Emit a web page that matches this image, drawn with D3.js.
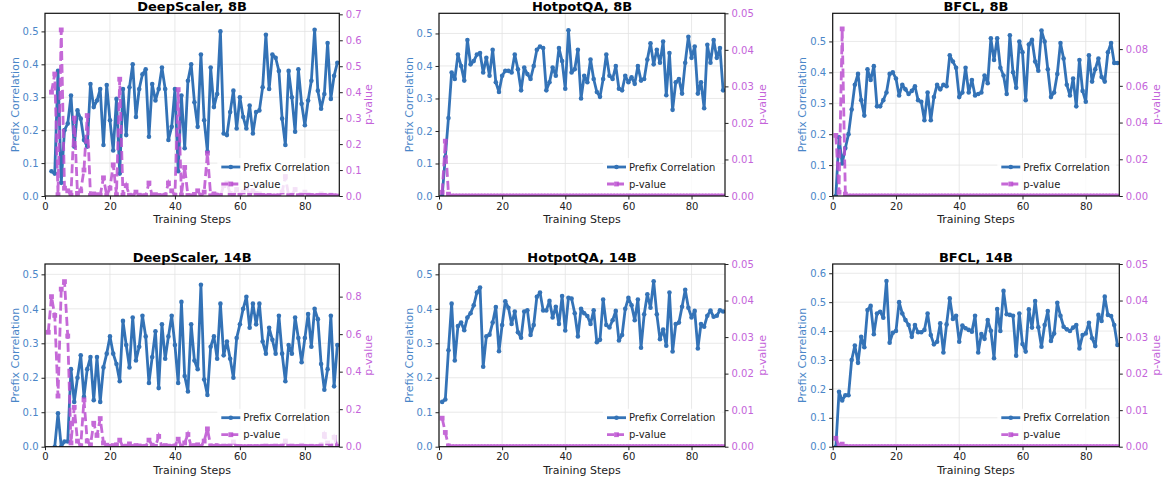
<!DOCTYPE html>
<html>
<head>
<meta charset="utf-8">
<script src="https://cdn.jsdelivr.net/npm/d3@7"></script>
<style>
  body { margin: 0; background: #fff; }
  svg text { font-family: "DejaVu Sans", sans-serif; }
</style>
</head>
<body>
<div id="chart"></div>
<script>
// training steps 1..90
const steps = d3.range(1, 91);
const xTicks = [0, 20, 40, 60, 80];

// prefix correlation per panel (null = no point)
const deepscaler8Corr = [
  null, 0.075, 0.068, 0.38, 0.04, 0.2, 0.22, 0.305, 0.15, 0.26,
  0.235, 0.17, 0.15, 0.34, 0.27, 0.29, 0.325, 0.155, 0.337, 0.23,
  0.138, 0.295, 0.068, 0.325, 0.185, 0.33, 0.4, 0.24, 0.325, 0.37,
  0.385, 0.18, 0.34, 0.29, 0.325, 0.39, 0.325, 0.17, 0.21, 0.325,
  0.075, 0.305, 0.145, 0.35, 0.4, 0.285, 0.21, 0.43, 0.23, 0.135,
  0.39, 0.27, 0.31, 0.5, 0.19, 0.185, 0.255, 0.32, 0.205, 0.3,
  0.24, 0.205, 0.275, 0.19, 0.255, 0.26, 0.33, 0.49, 0.325, 0.43,
  0.42, 0.38, 0.235, 0.155, 0.38, 0.3, 0.195, 0.385, 0.28, 0.215,
  0.29, 0.35, 0.505, 0.32, 0.265, 0.31, 0.465, 0.295, 0.365, 0.405
];
const deepscaler8P = [
  null, 0.40, 0.47, 0.005, 0.64, 0.03, 0.02, 0.003, 0.30, 0.01,
  0.02, 0.10, 0.31, 0.002, 0.008, 0.005, 0.003, 0.07, 0.002, 0.03,
  0.12, 0.005, 0.45, 0.003, 0.04, 0.003, 0.001, 0.015, 0.003, 0.001,
  0.001, 0.05, 0.002, 0.005, 0.002, 0.001, 0.003, 0.05, 0.02, 0.003,
  0.41, 0.004, 0.11, 0.002, 0.001, 0.006, 0.02, 0.001, 0.015, 0.165,
  0.001, 0.008, 0.004, 0.0, 0.04, 0.05, 0.01, 0.003, 0.025, 0.005,
  0.015, 0.03, 0.008, 0.02, 0.01, 0.008, 0.002, 0.0, 0.002, 0.0,
  0.0, 0.001, 0.015, 0.075, 0.001, 0.004, 0.025, 0.001, 0.006, 0.015,
  0.005, 0.002, 0.0, 0.002, 0.008, 0.003, 0.0, 0.004, 0.001, 0.0
];

const hotpot8Corr = [
  0.0, 0.12, 0.24, 0.38, 0.36, 0.435, 0.4, 0.355, 0.48, 0.405,
  0.415, 0.435, 0.44, 0.38, 0.425, 0.37, 0.45, 0.35, 0.32, 0.37,
  0.385, 0.385, 0.38, 0.435, 0.39, 0.325, 0.395, 0.375, 0.36, 0.4,
  0.45, 0.46, 0.455, 0.325, 0.35, 0.395, 0.37, 0.455, 0.415, 0.33,
  0.51, 0.38, 0.39, 0.45, 0.3, 0.37, 0.35, 0.42, 0.36, 0.32,
  0.305, 0.36, 0.435, 0.37, 0.36, 0.4, 0.33, 0.325, 0.37, 0.35,
  0.365, 0.345, 0.4, 0.355, 0.36, 0.42, 0.47, 0.405, 0.45, 0.41,
  0.475, 0.31, 0.44, 0.265, 0.35, 0.36, 0.315, 0.41, 0.49, 0.425,
  0.46, 0.315, 0.35, 0.27, 0.465, 0.41, 0.48, 0.425, 0.455, 0.325
];
const hotpot8P = [
  0.001, 0.015, 0.0005, 0, 0, 0, 0, 0, 0, 0,
  0, 0, 0, 0, 0, 0, 0, 0, 0, 0,
  0, 0, 0, 0, 0, 0, 0, 0, 0, 0,
  0, 0, 0, 0, 0, 0, 0, 0, 0, 0,
  0, 0, 0, 0, 0, 0, 0, 0, 0, 0,
  0, 0, 0, 0, 0, 0, 0, 0, 0, 0,
  0, 0, 0, 0, 0, 0, 0, 0, 0, 0,
  0, 0, 0, 0, 0, 0, 0, 0, 0, 0,
  0, 0, 0, 0, 0, 0, 0, 0, 0, 0
];

const bfcl8Corr = [
  0.0, 0.19, 0.105, 0.155, 0.2, 0.28, 0.36, 0.395, 0.31, 0.26,
  0.41, 0.375, 0.42, 0.29, 0.29, 0.31, 0.335, 0.395, 0.4, 0.38,
  0.325, 0.36, 0.345, 0.33, 0.34, 0.355, 0.31, 0.305, 0.245, 0.335,
  0.245, 0.32, 0.36, 0.345, 0.36, 0.355, 0.455, 0.435, 0.415, 0.32,
  0.335, 0.415, 0.335, 0.375, 0.325, 0.33, 0.335, 0.39, 0.365, 0.51,
  0.44, 0.51, 0.415, 0.39, 0.33, 0.52, 0.4, 0.35, 0.5, 0.465,
  0.31, 0.49, 0.505, 0.435, 0.405, 0.535, 0.5, 0.41, 0.32, 0.335,
  0.395, 0.495, 0.445, 0.36, 0.325, 0.38, 0.29, 0.44, 0.34, 0.305,
  0.455, 0.37, 0.41, 0.445, 0.385, 0.37, 0.465, 0.495, 0.43, 0.43
];
const bfcl8P = [
  0.033, 0.002, 0.091, 0.001, 0, 0, 0, 0, 0, 0,
  0, 0, 0, 0, 0, 0, 0, 0, 0, 0,
  0, 0, 0, 0, 0, 0, 0, 0, 0, 0,
  0, 0, 0, 0, 0, 0, 0, 0, 0, 0,
  0, 0, 0, 0, 0, 0, 0, 0, 0, 0,
  0, 0, 0, 0, 0, 0, 0, 0, 0, 0,
  0, 0, 0, 0, 0, 0, 0, 0, 0, 0,
  0, 0, 0, 0, 0, 0, 0, 0, 0, 0,
  0, 0, 0, 0, 0, 0, 0, 0, 0, 0
];

const deepscaler14Corr = [
  null, null, 0.0, 0.097, 0.0, 0.015, 0.015, 0.225, 0.13, 0.2,
  0.265, 0.145, 0.225, 0.26, 0.135, 0.26, 0.13, 0.23, 0.27, 0.32,
  0.27, 0.24, 0.19, 0.365, 0.295, 0.23, 0.375, 0.25, 0.29, 0.38,
  0.32, 0.185, 0.26, 0.335, 0.17, 0.355, 0.255, 0.32, 0.38, 0.295,
  0.185, 0.42, 0.205, 0.16, 0.355, 0.25, 0.225, 0.47, 0.195, 0.15,
  0.29, 0.32, 0.255, 0.415, 0.265, 0.305, 0.255, 0.2, 0.315, 0.355,
  0.4, 0.435, 0.345, 0.415, 0.355, 0.415, 0.305, 0.27, 0.345, 0.31,
  0.27, 0.38, 0.27, 0.19, 0.295, 0.27, 0.375, 0.315, 0.245, 0.315,
  0.385, 0.29, 0.4, 0.37, 0.24, 0.165, 0.225, 0.38, 0.175, 0.295
];
const deepscaler14P = [
  0.61, 0.80, 0.70, 0.27, 0.84, 0.88, 0.59, 0.02, 0.21, 0.03,
  0.005, 0.25, 0.03, 0.01, 0.125, 0.06, 0.15, 0.02, 0.008, 0.002,
  0.006, 0.01, 0.035, 0.001, 0.003, 0.015, 0.001, 0.006, 0.004, 0.001,
  0.002, 0.035, 0.008, 0.002, 0.055, 0.001, 0.006, 0.003, 0.001, 0.004,
  0.04, 0.001, 0.02, 0.065, 0.001, 0.006, 0.01, 0.0, 0.03, 0.095,
  0.004, 0.002, 0.006, 0.001, 0.005, 0.003, 0.006, 0.025, 0.002, 0.001,
  0.0, 0.0, 0.001, 0.0, 0.001, 0.0, 0.003, 0.005, 0.001, 0.003,
  0.005, 0.001, 0.005, 0.03, 0.003, 0.005, 0.001, 0.002, 0.008, 0.002,
  0.001, 0.003, 0.0, 0.001, 0.01, 0.065, 0.02, 0.001, 0.05, 0.003
];

const hotpot14Corr = [
  0.13, 0.137, 0.28, 0.415, 0.25, 0.35, 0.36, 0.338, 0.375, 0.387,
  0.41, 0.447, 0.462, 0.232, 0.32, 0.325, 0.36, 0.405, 0.277, 0.353,
  0.422, 0.403, 0.356, 0.392, 0.332, 0.316, 0.392, 0.396, 0.324, 0.353,
  0.435, 0.447, 0.395, 0.395, 0.423, 0.375, 0.406, 0.356, 0.437, 0.337,
  0.432, 0.43, 0.387, 0.32, 0.4, 0.387, 0.379, 0.356, 0.396, 0.303,
  0.31, 0.427, 0.353, 0.346, 0.367, 0.394, 0.308, 0.324, 0.4, 0.432,
  0.41, 0.367, 0.427, 0.287, 0.384, 0.442, 0.403, 0.48, 0.384, 0.312,
  0.34, 0.293, 0.447, 0.276, 0.356, 0.36, 0.406, 0.455, 0.403, 0.375,
  0.394, 0.285, 0.356, 0.348, 0.38, 0.395, 0.377, 0.38, 0.396, 0.392
];
const hotpot14P = [
  0.0078, 0.0039, 0.0002, 0, 0, 0, 0, 0, 0, 0,
  0, 0, 0, 0, 0, 0, 0, 0, 0, 0,
  0, 0, 0, 0, 0, 0, 0, 0, 0, 0,
  0, 0, 0, 0, 0, 0, 0, 0, 0, 0,
  0, 0, 0, 0, 0, 0, 0, 0, 0, 0,
  0, 0, 0, 0, 0, 0, 0, 0, 0, 0,
  0, 0, 0, 0, 0, 0, 0, 0, 0, 0,
  0, 0, 0, 0, 0, 0, 0, 0, 0, 0,
  0, 0, 0, 0, 0, 0, 0, 0, 0, 0
];

const bfcl14Corr = [
  0.0, 0.19, 0.16, 0.178, 0.178, 0.3, 0.35, 0.29, 0.38, 0.344,
  0.473, 0.487, 0.389, 0.461, 0.467, 0.446, 0.573, 0.36, 0.394, 0.4,
  0.5, 0.461, 0.438, 0.421, 0.38, 0.421, 0.396, 0.396, 0.404, 0.461,
  0.386, 0.354, 0.363, 0.427, 0.326, 0.423, 0.513, 0.442, 0.453, 0.363,
  0.419, 0.41, 0.404, 0.398, 0.453, 0.326, 0.39, 0.373, 0.438, 0.401,
  0.306, 0.476, 0.4, 0.539, 0.458, 0.456, 0.453, 0.315, 0.461, 0.355,
  0.329, 0.475, 0.412, 0.504, 0.413, 0.346, 0.421, 0.469, 0.366, 0.392,
  0.498, 0.453, 0.415, 0.406, 0.4, 0.412, 0.421, 0.34, 0.386, 0.392,
  0.429, 0.375, 0.348, 0.456, 0.435, 0.519, 0.456, 0.452, 0.421, 0.352
];
const bfcl14P = [
  0.0023, 0.0003, 0.0007, 0.0001, 0, 0, 0, 0, 0, 0,
  0, 0, 0, 0, 0, 0, 0, 0, 0, 0,
  0, 0, 0, 0, 0, 0, 0, 0, 0, 0,
  0, 0, 0, 0, 0, 0, 0, 0, 0, 0,
  0, 0, 0, 0, 0, 0, 0, 0, 0, 0,
  0, 0, 0, 0, 0, 0, 0, 0, 0, 0,
  0, 0, 0, 0, 0, 0, 0, 0, 0, 0,
  0, 0, 0, 0, 0, 0, 0, 0, 0, 0,
  0, 0, 0, 0, 0, 0, 0, 0, 0, 0
];

const titles = ["DeepScaler, 8B", "HotpotQA, 8B", "BFCL, 8B",
                "DeepScaler, 14B", "HotpotQA, 14B", "BFCL, 14B"];
const corrSeries = [deepscaler8Corr, hotpot8Corr, bfcl8Corr,
                    deepscaler14Corr, hotpot14Corr, bfcl14Corr];
const pSeries = [deepscaler8P, hotpot8P, bfcl8P,
                 deepscaler14P, hotpot14P, bfcl14P];

// axis limits and tick spacing
const corrMax = [0.555, 0.562, 0.591, 0.53, 0.53, 0.632];
const pMax = [0.704, 0.05, 0.0995, 0.974, 0.05, 0.05];
const pTickStep = [0.1, 0.01, 0.02, 0.2, 0.01, 0.01];

// layout: [left, top, right, bottom] of each plot area
const boxes = [
  [45, 13.3, 339.3, 196], [439, 13.3, 725, 196], [832.7, 13.3, 1119.3, 196],
  [45, 264, 339.3, 446.7], [439, 264, 725, 446.7], [832.7, 264, 1119.3, 446.7]
];

const width = 1168, height = 481;
const blue = "#3473b7", blueText = "#4a86c8";
const purple = "#bb4fd0", purpleText = "#c464da";

const svg = d3.select("#chart").append("svg")
  .attr("width", width)
  .attr("height", height);

function styleAxis(g, color) {
  g.select(".domain").remove();
  g.selectAll(".tick line").attr("stroke", "#222").attr("stroke-width", 1);
  g.selectAll(".tick text").attr("fill", color).style("font-size", "10px");
}

titles.forEach((title, i) => {
  const [left, top, right, bottom] = boxes[i];
  const w = right - left, h = bottom - top;
  const g = svg.append("g").attr("transform", `translate(${left},${top})`);

  const x = d3.scaleLinear().domain([0, 90.6]).range([0, w]);
  const y = d3.scaleLinear().domain([0, corrMax[i]]).range([h, 0]);
  const y2 = d3.scaleLinear().domain([0, pMax[i]]).range([h, 0]);

  const yTicks = d3.range(0, Math.floor(corrMax[i] / 0.1 + 1e-6) + 1).map(k => k * 0.1);
  const pTicks = d3.range(0, Math.floor(pMax[i] / pTickStep[i] + 1e-6) + 1).map(k => k * pTickStep[i]);
  const pFmt = pTickStep[i] < 0.1 ? d3.format(".2f") : d3.format(".1f");

  const clipId = "clip" + i;
  g.append("clipPath").attr("id", clipId)
    .append("rect").attr("width", w).attr("height", h);

  // grid
  g.append("g").selectAll("line").data(yTicks).join("line")
    .attr("x1", 0).attr("x2", w)
    .attr("y1", d => y(d)).attr("y2", d => y(d))
    .attr("stroke", "#e3e3e3").attr("stroke-width", 0.8);
  g.append("g").selectAll("line").data(xTicks).join("line")
    .attr("y1", 0).attr("y2", h)
    .attr("x1", d => x(d)).attr("x2", d => x(d))
    .attr("stroke", "#e3e3e3").attr("stroke-width", 0.8);

  const plot = g.append("g").attr("clip-path", `url(#${clipId})`);

  // prefix correlation
  const corrData = steps.map((s, k) => ({step: s, v: corrSeries[i][k]}))
    .filter(d => d.v !== null);
  plot.append("path").datum(corrData)
    .attr("fill", "none")
    .attr("stroke", blue)
    .attr("stroke-width", 2.8)
    .attr("stroke-linejoin", "round")
    .attr("d", d3.line().x(d => x(d.step)).y(d => y(d.v)));
  plot.append("g").selectAll("circle").data(corrData).join("circle")
    .attr("cx", d => x(d.step)).attr("cy", d => y(d.v))
    .attr("r", 2.3).attr("fill", blue);

  // p-value on twin axis
  const pData = steps.map((s, k) => ({step: s, v: pSeries[i][k]}))
    .filter(d => d.v !== null);
  const pg = plot.append("g").attr("opacity", 0.85);
  pg.append("path").datum(pData)
    .attr("fill", "none")
    .attr("stroke", purple)
    .attr("stroke-width", 2.8)
    .attr("stroke-dasharray", "9,4")
    .attr("d", d3.line().x(d => x(d.step)).y(d => y2(d.v)));
  pg.append("g").selectAll("rect").data(pData).join("rect")
    .attr("x", d => x(d.step) - 2.4).attr("y", d => y2(d.v) - 2.4)
    .attr("width", 4.8).attr("height", 4.8).attr("fill", purple);

  // spines
  g.append("rect").attr("width", w).attr("height", h)
    .attr("fill", "none").attr("stroke", "#111").attr("stroke-width", 1.2);

  // axes
  g.append("g").attr("transform", `translate(0,${h})`)
    .call(d3.axisBottom(x).tickValues(xTicks).tickFormat(d3.format("d")).tickSize(3.5).tickPadding(3))
    .call(a => styleAxis(a, "#222"));
  g.append("g")
    .call(d3.axisLeft(y).tickValues(yTicks).tickFormat(d3.format(".1f")).tickSize(3.5).tickPadding(3))
    .call(a => styleAxis(a, blueText));
  g.append("g").attr("transform", `translate(${w},0)`)
    .call(d3.axisRight(y2).tickValues(pTicks).tickFormat(pFmt).tickSize(3.5).tickPadding(3))
    .call(a => styleAxis(a, purpleText));

  // labels
  g.append("text")
    .attr("x", w / 2).attr("y", -2.5)
    .attr("text-anchor", "middle")
    .style("font-size", "13px").style("font-weight", "bold")
    .attr("fill", "#000")
    .text(title);
  g.append("text")
    .attr("x", w / 2).attr("y", h + 27)
    .attr("text-anchor", "middle")
    .style("font-size", "11px").attr("fill", "#222")
    .text("Training Steps");
  g.append("text")
    .attr("transform", `translate(-30,${h / 2}) rotate(-90)`)
    .attr("text-anchor", "middle").attr("dominant-baseline", "central")
    .style("font-size", "11px").attr("fill", blueText)
    .text("Prefix Correlation");
  const rOff = pTickStep[i] < 0.1 ? 37 : 29;
  g.append("text")
    .attr("transform", `translate(${w + rOff},${h / 2}) rotate(-90)`)
    .attr("text-anchor", "middle").attr("dominant-baseline", "central")
    .style("font-size", "11px").attr("fill", purpleText)
    .text("p-value");

  // legend
  const lg = g.append("g").attr("transform", `translate(${w - 122},${h - 38})`);
  lg.append("rect").attr("width", 119).attr("height", 35).attr("rx", 2)
    .attr("fill", "#fff").attr("opacity", 0.8);
  lg.append("line").attr("x1", 4).attr("x2", 23).attr("y1", 9).attr("y2", 9)
    .attr("stroke", blue).attr("stroke-width", 2.8);
  lg.append("circle").attr("cx", 13.5).attr("cy", 9).attr("r", 2.3).attr("fill", blue);
  lg.append("text").attr("x", 26).attr("y", 9).attr("dominant-baseline", "central")
    .style("font-size", "10px").attr("fill", "#222").text("Prefix Correlation");
  lg.append("line").attr("x1", 4).attr("x2", 23).attr("y1", 26).attr("y2", 26)
    .attr("stroke", purple).attr("stroke-width", 2.8).attr("stroke-dasharray", "7,3")
    .attr("opacity", 0.85);
  lg.append("rect").attr("x", 11.1).attr("y", 23.6).attr("width", 4.8).attr("height", 4.8)
    .attr("fill", purple).attr("opacity", 0.85);
  lg.append("text").attr("x", 26).attr("y", 26).attr("dominant-baseline", "central")
    .style("font-size", "10px").attr("fill", "#222").text("p-value");
});
</script>
</body>
</html>
